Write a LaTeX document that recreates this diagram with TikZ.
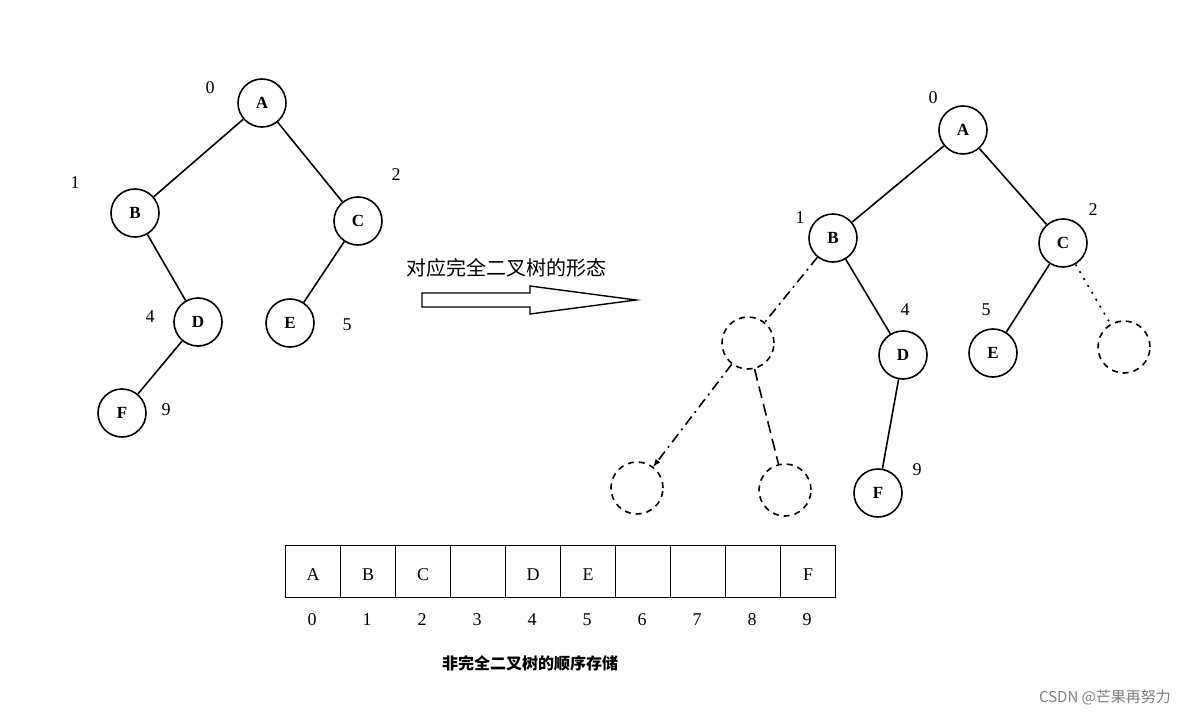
\documentclass[tikz,border=0pt]{standalone}
\usepackage{fontspec}
\setmainfont{Liberation Serif}
\newfontfamily\cjk{Noto Sans CJK SC}
\begin{document}
\begin{tikzpicture}[x=1pt,y=-1pt,
  nd/.style={circle,draw,line width=1.6pt,minimum size=48pt,inner sep=0pt,font=\fontsize{17}{17}\selectfont\bfseries},
  gh/.style={circle,draw,line width=1.6pt,dash pattern=on 6pt off 5pt,minimum size=52pt,inner sep=0pt},
  lab/.style={font=\fontsize{18}{18}\selectfont},
  ed/.style={line width=1.6pt},
  cell/.style={draw,line width=1.3pt,minimum width=55pt,minimum height=52pt,anchor=north west,inner sep=0pt}]
\useasboundingbox (0,0) rectangle (1200,717);
\fill[white] (0,0) rectangle (1200,717);
% left tree
\node[nd] (a) at (262,103) {A};
\node[nd] (b) at (135,213) {B};
\node[nd] (c) at (358,221) {C};
\node[nd] (d) at (198,322) {D};
\node[nd] (e) at (290,323) {E};
\node[nd] (f) at (122,413) {F};
\draw[ed] (a)--(b) (a)--(c) (b)--(d) (c)--(e) (d)--(f);
\node[lab] (l0) at (210,88) {0};
\node[lab] (l1) at (75,183) {1};
\node[lab] (l2) at (396,175) {2};
\node[lab] (l4) at (150,317) {4};
\node[lab] (l5) at (347,325) {5};
\node[lab] (l9) at (166,410) {9};
% arrow
\node[font=\cjk\fontsize{20}{20}\selectfont] (t) at (506,268) {对应完全二叉树的形态};
\draw[line width=1.4pt] (422,293) -- (530,293) -- (530,286) -- (636,300) -- (530,314) -- (530,307) -- (422,307) -- cycle;
% right tree
\node[nd] (ra) at (963,130) {A};
\node[nd] (rb) at (833,238) {B};
\node[nd] (rc) at (1063,243) {C};
\node[nd] (rd) at (903,355) {D};
\node[nd] (re) at (993,353) {E};
\node[nd] (rf) at (878,493) {F};
\node[gh] (g1) at (748,343) {};
\node[gh] (g2) at (1124,347) {};
\node[gh] (g3) at (637,488) {};
\node[gh] (g4) at (785,490) {};
\draw[ed] (ra)--(rb) (ra)--(rc) (rb)--(rd) (rc)--(re) (rd)--(rf);
\draw[ed,dash pattern=on 10pt off 5pt on 2pt off 5pt] (rb)--(g1);
\draw[ed,dash pattern=on 2pt off 6pt] (rc)--(g2);
\draw[ed,dash pattern=on 10pt off 5pt on 2pt off 5pt,-latex] (g1)--(g3);
\draw[ed,dash pattern=on 12pt off 6pt] (g1)--(g4);
\node[lab] (r0) at (933,98) {0};
\node[lab] (r1) at (800,218) {1};
\node[lab] (r2) at (1093,210) {2};
\node[lab] (r4) at (905,310) {4};
\node[lab] (r5) at (986,310) {5};
\node[lab] (r9) at (917,470) {9};
% array
\foreach \x/\t/\i [count=\k] in {285/A/0,340/B/1,395/C/2,450//3,505/D/4,560/E/5,615//6,670//7,725//8,780/F/9}{
  \node[cell] (c\k) at (\x,545) {};
  \node[font=\fontsize{18}{18}\selectfont] (ct\k) at (\x+28,575) {\t};
  \node[lab] (ci\k) at (\x+27,620) {\i};
}
\node[font=\cjk\fontsize{16}{16}\selectfont\bfseries] (cap) at (530,663) {非完全二叉树的顺序存储};
\node[font=\cjk\fontsize{15}{15}\selectfont,text=gray] (wm) at (1105,697) {CSDN @芒果再努力};
\end{tikzpicture}
\end{document}
